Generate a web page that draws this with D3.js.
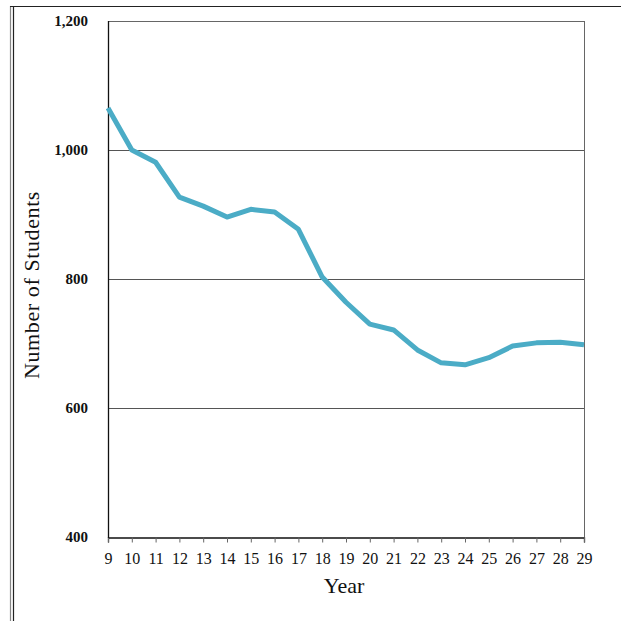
<!DOCTYPE html>
<html><head><meta charset="utf-8">
<script src="https://cdn.jsdelivr.net/npm/d3@7"></script>
<style>html,body{margin:0;padding:0;background:#fff;}svg{display:block;}</style>
</head><body>
<script>
const years = [9,10,11,12,13,14,15,16,17,18,19,20,21,22,23,24,25,26,27,28,29];
const students = [1065,1000,981,927,913,896,908,904,877,803,764,730,721,690,670,667,678,696,701,702,698];
const yTicks = [400,600,800,1000,1200];

const W = 621, H = 621;
const m = {left:108, right:584, top:21, bottom:537};
const svg = d3.select("body").append("svg").attr("width",W).attr("height",H);
const font = "'Liberation Serif', 'DejaVu Serif', serif";

// outer frame
svg.append("line").attr("x1",10.5).attr("x2",10.5).attr("y1",6).attr("y2",H).attr("stroke","#888").attr("stroke-width",1.2);
svg.append("line").attr("x1",13.5).attr("x2",13.5).attr("y1",6).attr("y2",H).attr("stroke","#222").attr("stroke-width",1.2);
svg.append("line").attr("x1",10).attr("x2",W).attr("y1",6.5).attr("y2",6.5).attr("stroke","#222").attr("stroke-width",1.2);

const x = d3.scaleLinear().domain([9,29]).range([m.left,m.right]);
const y = d3.scaleLinear().domain([400,1200]).range([m.bottom,m.top]);

// gridlines
svg.append("g").selectAll("line").data(yTicks.filter(d=>d>400 && d<1200)).join("line")
  .attr("x1",m.left).attr("x2",m.right).attr("y1",d=>Math.round(y(d))+0.5).attr("y2",d=>Math.round(y(d))+0.5)
  .attr("stroke","#555").attr("stroke-width",1);
// plot border top/right
svg.append("line").attr("x1",m.left).attr("x2",m.right+0.5).attr("y1",m.top+0.5).attr("y2",m.top+0.5).attr("stroke","#666");
svg.append("line").attr("x1",m.right+0.5).attr("x2",m.right+0.5).attr("y1",m.top).attr("y2",m.bottom).attr("stroke","#666");

// y axis labels
svg.append("g").selectAll("text").data(yTicks).join("text")
  .attr("x",88).attr("y",d=>y(d)).attr("dy","0.35em").attr("text-anchor","end")
  .attr("font-family",font).attr("font-weight","bold").attr("font-size",15).attr("fill","#111")
  .text(d=>d3.format(",")(d));

// x axis
const xAxis = d3.axisBottom(x).tickValues(years).tickSize(5).tickPadding(10).tickFormat(d3.format("d"));
const gx = svg.append("g").attr("transform",`translate(0,${m.bottom+0.5})`).call(xAxis);
gx.select(".domain").attr("stroke","#111").attr("stroke-width",1.3);
gx.selectAll(".tick line").attr("stroke","#666");
gx.selectAll(".tick text").attr("font-family",font).attr("font-size",16).attr("fill","#111");

// left axis line
svg.append("line").attr("x1",m.left+0.5).attr("x2",m.left+0.5).attr("y1",m.top).attr("y2",m.bottom+1).attr("stroke","#111").attr("stroke-width",1.3);

// line
const line = d3.line().x((d,i)=>x(years[i])).y(d=>y(d));
svg.append("path").datum(students).attr("d",line).attr("fill","none")
  .attr("stroke","#4BACC6").attr("stroke-width",5).attr("stroke-linejoin","round");

// titles
svg.append("text").attr("x",344).attr("y",593).attr("text-anchor","middle")
  .attr("font-family",font).attr("font-size",22).attr("fill","#111").text("Year");
svg.append("text").attr("transform","translate(39,285) rotate(-90)").attr("text-anchor","middle")
  .attr("font-family",font).attr("font-size",22).attr("letter-spacing",0.6).attr("fill","#111").text("Number of Students");
</script>
</body></html>
